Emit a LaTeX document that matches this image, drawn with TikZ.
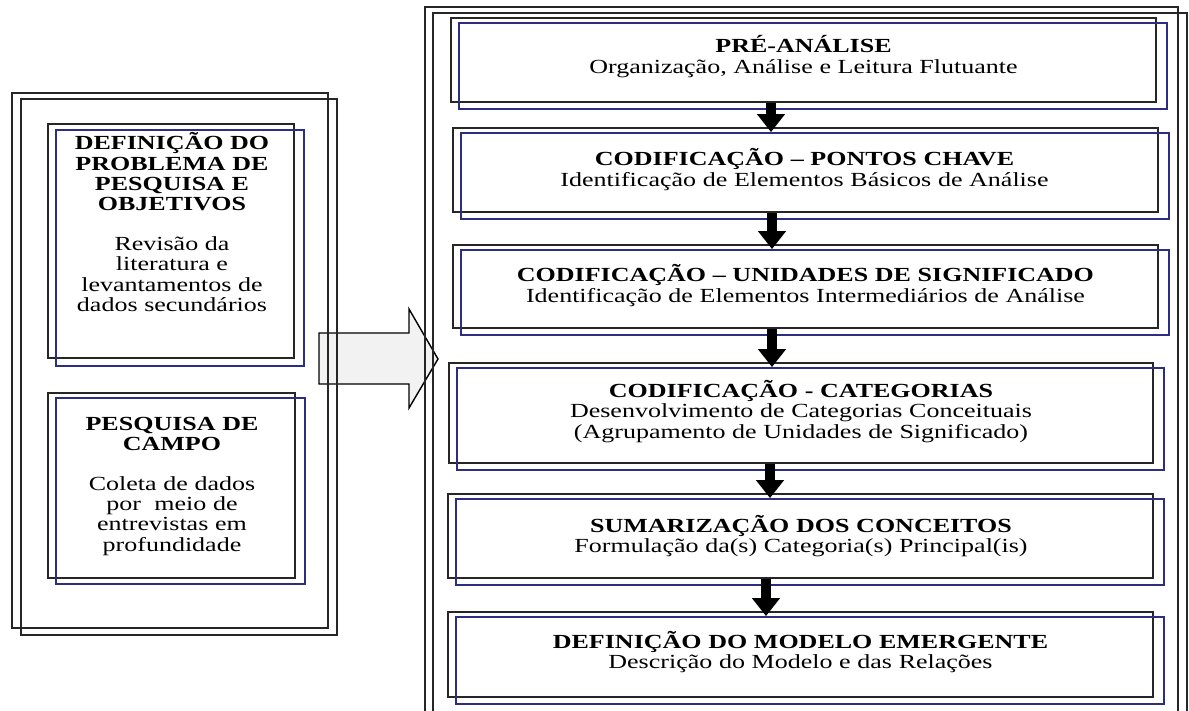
\documentclass[tikz,border=0pt]{standalone}
\usepackage{fontspec}
\setmainfont{Liberation Serif}[FakeStretch=1.30]
\usetikzlibrary{arrows.meta,calc}
\definecolor{navy}{RGB}{45,45,130}
\definecolor{arrowfill}{RGB}{242,242,242}

\begin{document}
\begin{tikzpicture}[x=1pt,y=-1pt,
  frame/.style={draw=black!85, line width=2pt},
  blk/.style={draw=black!85, line width=1.8pt, inner sep=0pt},
  bluebox/.style={draw=navy, line width=1.5pt},
  txt/.style={text width=700pt, align=center, inner sep=0pt, anchor=base,
              font=\fontsize{20}{20.5}\selectfont},
  ltxt/.style={text width=240pt, align=center, inner sep=0pt, anchor=base,
              font=\fontsize{20}{20.3}\selectfont},
  flow/.style={line width=10pt, -{Triangle[width=27pt,length=18pt]}, black},
  bigarrow/.style={draw=black, line width=1.4pt, fill=arrowfill, line join=miter},
]
\useasboundingbox (0,0) rectangle (1189,711);
\clip (0,0) rectangle (1189,711);

% block arrow from the left panel to the right panel
\draw[bigarrow] (319,333) -- (409,333) -- (409,309) -- (438,359)
  -- (409,408) -- (409,384) -- (319,384) -- cycle;

% panel frames
\draw[frame] (12,93) rectangle (328,628);
\draw[frame] (21,99) rectangle (337,635);
\draw[frame] (425,7) rectangle (1178,740);
\draw[frame] (433,13) rectangle (1187,740);

% left panel boxes
\node[blk, minimum width=246pt, minimum height=234pt] (l1) at (171,241) {};
\draw[bluebox] ([shift={(9,7)}]l1.north west) rectangle ([shift={(9,7)}]l1.south east);
\node[blk, minimum width=247pt, minimum height=185pt] (l2) at (171.5,485.5) {};
\draw[bluebox] ([shift={(9,6)}]l2.north west) rectangle ([shift={(9,5)}]l2.south east);

\node[ltxt] (l1t) at (172,150) {\textbf{DEFINIÇÃO DO}\\\textbf{PROBLEMA DE}\\\textbf{PESQUISA E}\\\textbf{OBJETIVOS}\\[19.5pt]Revisão da\\literatura e\\levantamentos de\\dados secundários};
\node[ltxt] (l2t) at (172,430) {\textbf{PESQUISA DE}\\\textbf{CAMPO}\\[19.5pt]Coleta de dados\\por~ meio de\\entrevistas em\\profundidade};

% right panel: process steps
\node[blk, minimum width=705pt, minimum height=84pt] (b1) at (803.5,60) {};
\node[blk, minimum width=705pt, minimum height=84pt] (b2) at (805.5,170) {};
\node[blk, minimum width=705pt, minimum height=83pt] (b3) at (805.5,286.5) {};
\node[blk, minimum width=704pt, minimum height=100pt] (b4) at (801,413) {};
\node[blk, minimum width=705pt, minimum height=84pt] (b5) at (800.5,536) {};
\node[blk, minimum width=705pt, minimum height=85pt] (b6) at (800.5,654.5) {};
\foreach \b in {b1,b2,b3,b4,b5,b6}{
  \draw[bluebox] ([shift={(9,6)}]\b.north west) rectangle ([shift={(10,6)}]\b.south east);
}

\node[txt] (t1) at (803.5,53) {\textbf{PRÉ-ANÁLISE}\\Organização, Análise e Leitura Flutuante};
\node[txt] (t2) at (804.5,166) {\textbf{CODIFICAÇÃO – PONTOS CHAVE}\\Identificação de Elementos Básicos de Análise};
\node[txt] (t3) at (805.5,282) {\textbf{CODIFICAÇÃO – UNIDADES DE SIGNIFICADO}\\Identificação de Elementos Intermediários de Análise};
\node[txt] (t4) at (801,397) {\textbf{CODIFICAÇÃO - CATEGORIAS}\\Desenvolvimento de Categorias Conceituais\\(Agrupamento de Unidades de Significado)};
\node[txt] (t5) at (801,532) {\textbf{SUMARIZAÇÃO DOS CONCEITOS}\\Formulação da(s) Categoria(s) Principal(is)};
\node[txt] (t6) at (800.5,648) {\textbf{DEFINIÇÃO DO MODELO EMERGENTE}\\Descrição do Modelo e das Relações};

% arrows between steps
\coordinate (a1) at (771,0);
\coordinate (a2) at (772,0);
\coordinate (a3) at (772,0);
\coordinate (a4) at (770,0);
\coordinate (a5) at (766,0);
\draw[flow, shorten >=-5pt] (b1.south -| a1) -- (b2.north -| a1);
\draw[flow, shorten >=-5pt] (b2.south -| a2) -- (b3.north -| a2);
\draw[flow, shorten >=-5pt] (b3.south -| a3) -- (b4.north -| a3);
\draw[flow, shorten >=-5pt] (b4.south -| a4) -- (b5.north -| a4);
\draw[flow, shorten >=-5pt] (b5.south -| a5) -- (b6.north -| a5);
\end{tikzpicture}
\end{document}
